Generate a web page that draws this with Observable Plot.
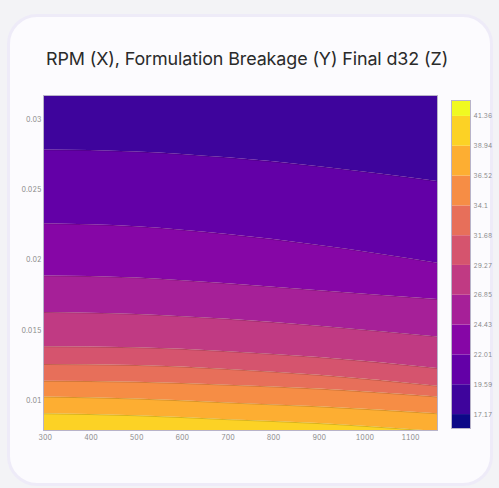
<!DOCTYPE html>
<html>
<head>
<meta charset="utf-8">
<script src="https://cdn.jsdelivr.net/npm/d3@7"></script>
<script src="https://cdn.jsdelivr.net/npm/@observablehq/plot@0.6"></script>
<style>
  html, body { margin: 0; padding: 0; }
  body { width: 499px; height: 488px; background: #f3f3f6; position: relative; overflow: hidden; font-family: Inter, "Open Sans", sans-serif; }
  #card { position: absolute; left: 7px; top: 14px; width: 480px; height: 466px; border-radius: 30px; background: #fcfbfe; border: 3px solid #eeebf8; }
  #title { position: absolute; left: 46px; top: 50px; font-size: 17.9px; line-height: 1; color: #2a2a2a; white-space: nowrap; letter-spacing: -0.1px; }
  #main { position: absolute; left: 0; top: 80px; }
  #bar { position: absolute; left: 440px; top: 90px; }
</style>
</head>
<body>
<div id="card"></div>
<div id="title">RPM (X), Formulation Breakage (Y) Final d32 (Z)</div>
<div id="main"></div>
<div id="bar"></div>
<script>
// ---- data ----
const rpm = [296, 500, 700, 900, 1159];           // x sample positions (RPM)
const xDomain = [296, 1159];
const yDomain = [0.0079, 0.0317];
const xTicks = [300, 400, 500, 600, 700, 800, 900, 1000, 1100];
const yTicks = [0.01, 0.015, 0.02, 0.025, 0.03];
const levels = [17.17, 19.59, 22.01, 24.43, 26.85, 29.27, 31.68, 34.1, 36.52, 38.94, 41.36];
const levelLabels = ["17.17", "19.59", "22.01", "24.43", "26.85", "29.27", "31.68", "34.1", "36.52", "38.94", "41.36"];
const zRange = [16.04, 42.65];
// breakage (Y) at which each contour level crosses the rpm samples
const y1959 = [0.02783, 0.02769, 0.02727, 0.02664, 0.02559];
const y2201 = [0.02259, 0.02238, 0.02182, 0.02105, 0.01979];
const y2443 = [0.01888, 0.01874, 0.01832, 0.01783, 0.01720];
const y2685 = [0.01629, 0.01615, 0.01580, 0.01531, 0.01455];
const y2927 = [0.01385, 0.01378, 0.01350, 0.01308, 0.01231];
const y3168 = [0.01259, 0.01252, 0.01224, 0.01182, 0.01105];
const y3410 = [0.01140, 0.01133, 0.01112, 0.01084, 0.01028];
const y3652 = [0.01028, 0.01014, 0.00986, 0.00958, 0.00909];
const y3894 = [0.00909, 0.00895, 0.00867, 0.00839, 0.00783];

// ---- build tables ----
const contourLines = [
  {level: 19.59, ys: y1959}, {level: 22.01, ys: y2201}, {level: 24.43, ys: y2443},
  {level: 26.85, ys: y2685}, {level: 29.27, ys: y2927}, {level: 31.68, ys: y3168},
  {level: 34.1, ys: y3410}, {level: 36.52, ys: y3652}, {level: 38.94, ys: y3894}
];
const topEdge = rpm.map(() => yDomain[1]);
const bottomEdge = rpm.map(() => yDomain[0]);
const bounds = [{level: 17.17, ys: topEdge}, ...contourLines, {level: 41.36, ys: bottomEdge}];
const bandRows = [];
for (let i = 0; i < bounds.length - 1; i++) {
  const a = bounds[i], b = bounds[i + 1];
  const zmid = (a.level + b.level) / 2;
  rpm.forEach((x, j) => bandRows.push({band: i, x, y1: b.ys[j], y2: a.ys[j], z: zmid}));
}
const lineRows = [];
contourLines.forEach((l, i) => rpm.forEach((x, j) => lineRows.push({lv: i, x, y: l.ys[j]})));

const colors = d3.quantize(d3.interpolatePlasma, levels.length + 1);
const colorScale = {type: "threshold", domain: levels, range: colors};

const main = Plot.plot({
  width: 440, height: 370,
  marginLeft: 43, marginRight: 3, marginTop: 15, marginBottom: 20,
  style: {background: "transparent", fontFamily: "Inter, sans-serif", fontSize: "7px", color: "#8a8a8a"},
  x: {domain: xDomain, ticks: xTicks, tickSize: 0, tickPadding: 5, label: null, tickFormat: d => String(d)},
  y: {domain: yDomain, ticks: yTicks, tickSize: 0, tickPadding: 2, label: null, tickFormat: d => String(d)},
  color: colorScale,
  marks: [
    Plot.areaY(bandRows, {x: "x", y1: "y1", y2: "y2", z: "band", fill: "z", curve: "monotone-x", clip: true}),
    Plot.line(lineRows, {x: "x", y: "y", z: "lv", stroke: "#000", strokeOpacity: 0.22, strokeWidth: 0.7, curve: "monotone-x", clip: true}),
    Plot.frame({stroke: "#b8b3c9", strokeWidth: 1})
  ]
});
document.getElementById("main").appendChild(main);

// colorbar
const barRows = [];
const edges = [zRange[0], ...levels, zRange[1]];
for (let i = 0; i < edges.length - 1; i++) barRows.push({lo: edges[i], hi: edges[i + 1], z: (edges[i] + edges[i + 1]) / 2});
const bar = Plot.plot({
  width: 59, height: 350,
  marginLeft: 11, marginRight: 29, marginTop: 10, marginBottom: 12,
  style: {background: "transparent", fontFamily: "Inter, sans-serif", fontSize: "6.5px", color: "#8a8a8a"},
  x: {domain: [0, 1], axis: null},
  y: {domain: zRange, axis: "right", ticks: levels, tickSize: 0, tickPadding: 3, label: null,
      tickFormat: d => levelLabels[levels.indexOf(d)]},
  color: colorScale,
  marks: [
    Plot.rectY(barRows, {x1: 0, x2: 1, y1: "lo", y2: "hi", fill: "z"}),
    Plot.frame({stroke: "#b8b3c9", strokeWidth: 1})
  ]
});
document.getElementById("bar").appendChild(bar);
</script>
</body>
</html>
